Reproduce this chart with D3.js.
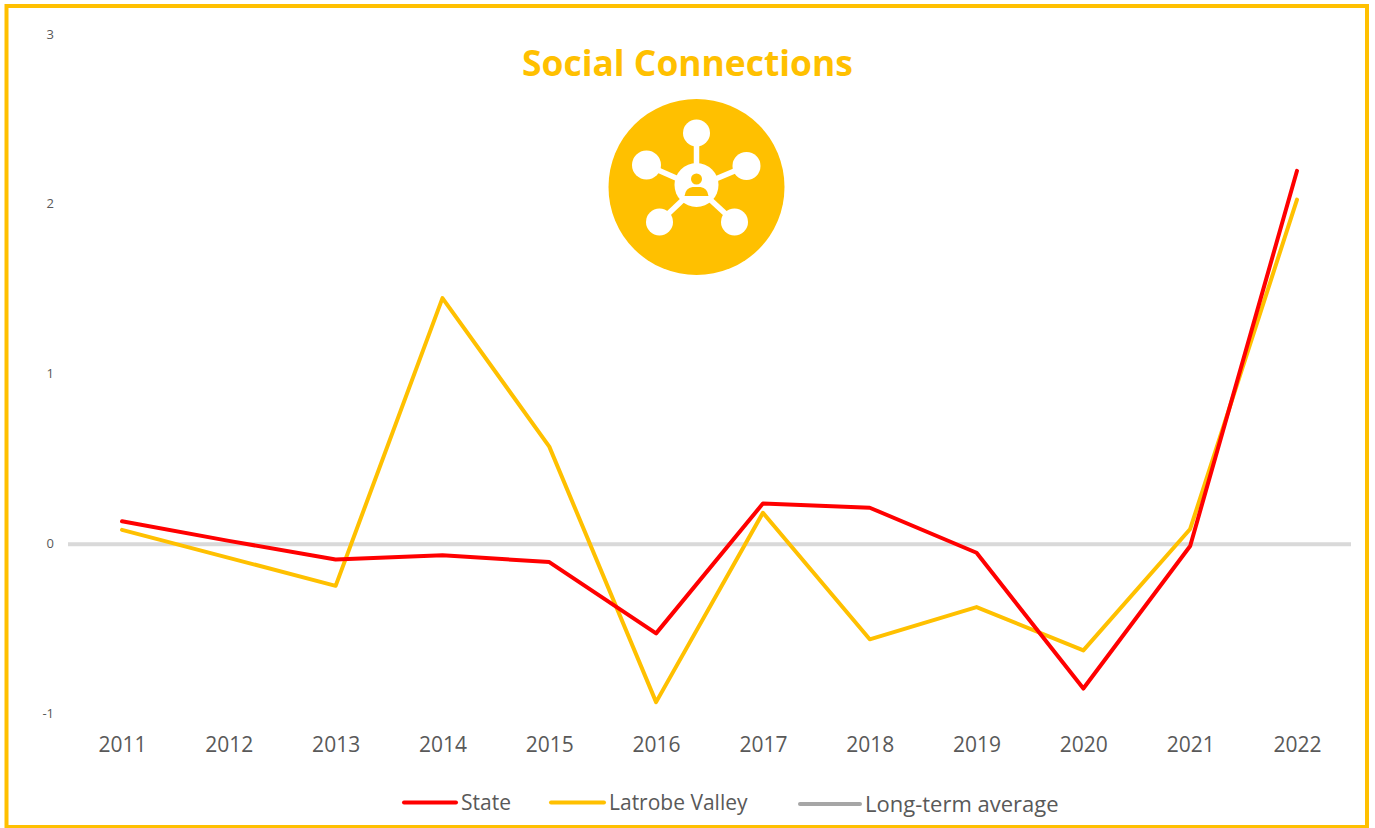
<!DOCTYPE html>
<html><head><meta charset="utf-8">
<script src="https://cdn.jsdelivr.net/npm/d3@7"></script>
<style>html,body{margin:0;padding:0;background:#fff}svg{display:block}text{font-family:"Open Sans",sans-serif}</style>
</head><body><svg id="c" width="1375" height="828"></svg>
<script>
const years=[2011,2012,2013,2014,2015,2016,2017,2018,2019,2020,2021,2022];
const stateValues=[0.135,0.02,-0.09,-0.065,-0.105,-0.525,0.24,0.215,-0.05,-0.85,-0.01,2.2];
const latrobeValues=[0.085,-0.08,-0.245,1.45,0.575,-0.93,0.185,-0.56,-0.37,-0.625,0.09,2.03];
const averageValues=years.map(()=>0);
const yTicks=[-1,0,1,2,3];
const titleText="Social Connections";
const legendItems=[
 {name:"State",color:"#ff0000",x0:404,x1:456,ly:802.5,tx:461,ty:810,size:21},
 {name:"Latrobe Valley",color:"#ffc000",x0:551,x1:604,ly:802.5,tx:609,ty:810,size:21},
 {name:"Long-term average",color:"#a6a6a6",x0:800,x1:860,ly:804,tx:865,ty:812,size:22}];
const svg=d3.select("#c");
const gold="#ffc000";
svg.append("rect").attr("x",6.5).attr("y",6).attr("width",1360.5).attr("height",821).attr("fill","#fff").attr("stroke",gold).attr("stroke-width",4);
const x=d3.scalePoint().domain(years).range([122,1297]);
const y=d3.scaleLinear().domain([-1,3]).range([714,35]);
const ya=d3.axisLeft(y).tickValues(yTicks).tickSize(0).tickPadding(0).tickFormat(d=>String(d));
const gy=svg.append("g").attr("transform","translate(54,-1)").call(ya);
gy.select(".domain").remove();
gy.selectAll("text").attr("font-size",13).attr("fill","#595959").style("font-family",'"Open Sans",sans-serif');
const xa=d3.axisBottom(x).tickSize(0).tickPadding(0).tickFormat(d3.format("d"));
const gx=svg.append("g").attr("transform","translate(0,737)").call(xa);
gx.select(".domain").remove();
gx.selectAll("text").attr("font-size",21).attr("fill","#595959").style("font-family",'"Open Sans",sans-serif');
svg.append("line").attr("x1",68).attr("x2",1351).attr("y1",y(averageValues[0])).attr("y2",y(averageValues[0])).attr("stroke","#d9d9d9").attr("stroke-width",4);
const line=d3.line().x((d,i)=>x(years[i])).y(d=>y(d));
svg.append("path").datum(latrobeValues).attr("d",line).attr("fill","none").attr("stroke",gold).attr("stroke-width",4).attr("stroke-linejoin","round").attr("stroke-linecap","round");
svg.append("path").datum(stateValues).attr("d",line).attr("fill","none").attr("stroke","#ff0000").attr("stroke-width",4).attr("stroke-linejoin","round").attr("stroke-linecap","round");
const lg=svg.selectAll(".lg").data(legendItems).enter().append("g");
lg.append("line").attr("x1",d=>d.x0).attr("x2",d=>d.x1).attr("y1",d=>d.ly).attr("y2",d=>d.ly).attr("stroke",d=>d.color).attr("stroke-width",4).attr("stroke-linecap","round");
lg.append("text").attr("x",d=>d.tx).attr("y",d=>d.ty).attr("font-size",d=>d.size).attr("fill","#595959").text(d=>d.name);
svg.append("text").attr("x",687.5).attr("y",76).attr("text-anchor","middle").attr("font-size",35.4).attr("font-weight",700).attr("fill",gold).text(titleText);
const ic=svg.append("g").attr("transform","translate(696.5,187)");
ic.append("circle").attr("r",88).attr("fill",gold);
const nodes=[[0,-54,13.5],[-50,-22,14.5],[50,-21,14],[-37,35,13.5],[38,35,13.5]];
ic.selectAll(".s").data(nodes).enter().append("line").attr("x1",0).attr("y1",0).attr("x2",d=>d[0]).attr("y2",d=>d[1]).attr("stroke","#fff").attr("stroke-width",5.5);
ic.selectAll(".n").data(nodes).enter().append("circle").attr("cx",d=>d[0]).attr("cy",d=>d[1]).attr("r",d=>d[2]).attr("fill","#fff");
ic.append("circle").attr("r",22).attr("cy",-2).attr("fill","#fff");
ic.append("circle").attr("cy",-8).attr("r",5.5).attr("fill",gold);
ic.append("path").attr("d","M-12,9 Q-11,1 -4,0 L4,0 Q11,1 12,9 Z").attr("fill",gold);
</script></body></html>
